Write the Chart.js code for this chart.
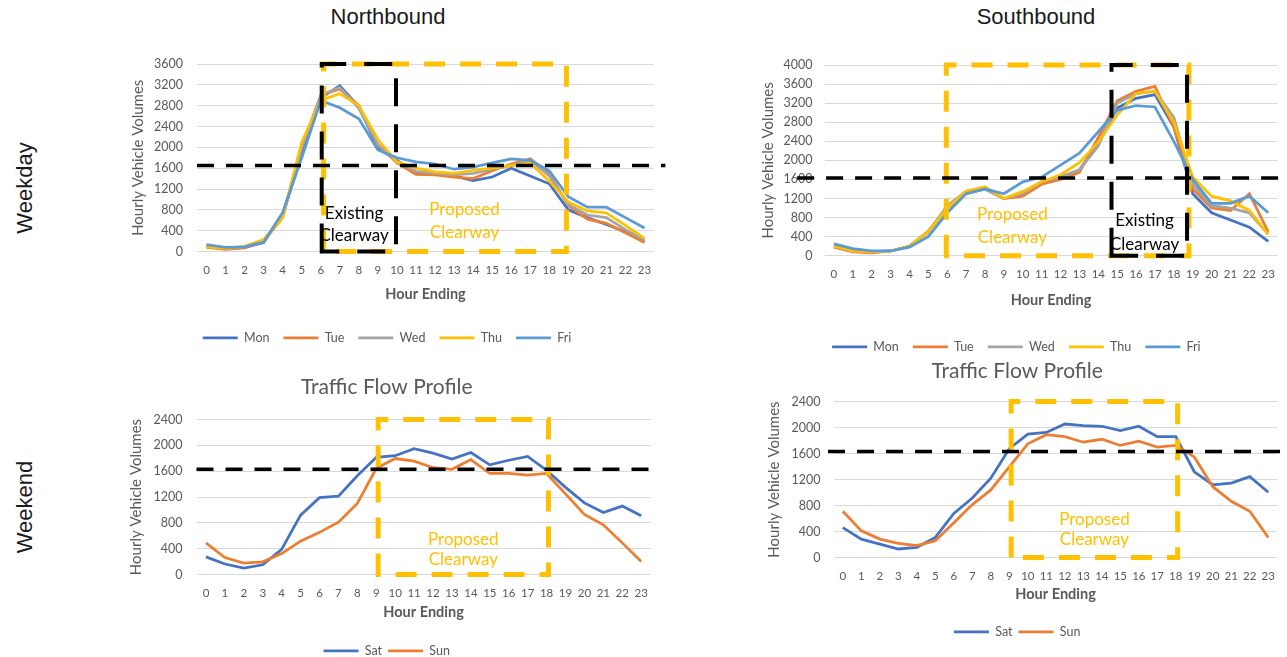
<!DOCTYPE html>
<html>
<head>
<meta charset="utf-8">
<title>Traffic Flow Profile</title>
<script src="https://cdn.jsdelivr.net/npm/chart.js@4.4.0/dist/chart.umd.min.js"></script>
<style>
  html, body { margin: 0; padding: 0; background: #fff; width: 1287px; height: 657px; overflow: hidden; }
  .box { position: absolute; }
  .lbl { position: absolute; font-family: "Liberation Sans", Arial, sans-serif; font-size: 22px; color: #1a1a1a; white-space: nowrap; transform: translate(-50%, -50%); }
  .rot { transform: translate(-50%, -50%) rotate(-90deg); }
</style>
</head>
<body>
<div class="lbl" style="left:388px;top:17px">Northbound</div>
<div class="lbl" style="left:1036px;top:17px">Southbound</div>
<div class="lbl rot" style="left:25px;top:188px">Weekday</div>
<div class="lbl rot" style="left:25px;top:507px">Weekend</div>

<div class="box" style="left:120px;top:40px;width:548px;height:314px"><canvas id="nbWeekday"></canvas></div>
<div class="box" style="left:750px;top:40px;width:537px;height:323px"><canvas id="sbWeekday"></canvas></div>
<div class="box" style="left:120px;top:365px;width:540px;height:302px"><canvas id="nbWeekend"></canvas></div>
<div class="box" style="left:750px;top:349px;width:537px;height:299px"><canvas id="sbWeekend"></canvas></div>

<script>
// hour ending categories
const hours = ["0","1","2","3","4","5","6","7","8","9","10","11","12","13","14","15","16","17","18","19","20","21","22","23"];

// Northbound weekday
const nbMon = [100, 60, 80, 170, 720, 1850, 2950, 3180, 2780, 1980, 1750, 1500, 1480, 1450, 1360, 1430, 1600, 1450, 1300, 800, 650, 520, 380, 200];
const nbTue = [80, 40, 70, 200, 650, 2000, 3000, 3120, 2800, 2050, 1700, 1480, 1470, 1430, 1400, 1550, 1680, 1780, 1500, 880, 620, 540, 360, 170];
const nbWed = [110, 70, 90, 200, 700, 2000, 3000, 3150, 2750, 2050, 1720, 1540, 1500, 1470, 1500, 1580, 1650, 1750, 1450, 900, 700, 650, 420, 220];
const nbThu = [90, 60, 100, 230, 650, 2100, 2900, 3030, 2800, 2150, 1720, 1600, 1530, 1500, 1560, 1600, 1650, 1700, 1350, 950, 780, 740, 500, 250];
const nbFri = [130, 80, 90, 180, 750, 1800, 2900, 2760, 2550, 1950, 1800, 1720, 1680, 1580, 1620, 1700, 1780, 1750, 1550, 1050, 850, 850, 650, 450];

// Southbound weekday
const sbMon = [200, 100, 80, 100, 200, 500, 1000, 1300, 1400, 1200, 1300, 1550, 1650, 1800, 2350, 3100, 3300, 3380, 2700, 1300, 900, 750, 600, 300];
const sbTue = [180, 80, 60, 100, 200, 520, 1000, 1350, 1420, 1200, 1250, 1500, 1600, 1750, 2480, 3250, 3450, 3550, 2700, 1400, 1000, 950, 1300, 500];
const sbWed = [200, 100, 80, 100, 200, 500, 1050, 1350, 1400, 1200, 1300, 1550, 1650, 1800, 2300, 3200, 3400, 3450, 2900, 1500, 1050, 1000, 900, 450];
const sbThu = [200, 100, 80, 100, 200, 500, 1000, 1350, 1450, 1200, 1350, 1550, 1700, 1950, 2380, 2950, 3400, 3450, 2800, 1650, 1250, 1150, 950, 450];
const sbFri = [250, 150, 100, 100, 180, 400, 900, 1300, 1400, 1300, 1550, 1650, 1900, 2150, 2600, 3050, 3150, 3120, 2400, 1600, 1100, 1100, 1250, 900];

// weekend
const nbSat = [273, 162, 100, 150, 390, 920, 1190, 1215, 1530, 1815, 1840, 1950, 1880, 1790, 1890, 1700, 1770, 1830, 1615, 1350, 1110, 960, 1060, 910];
const nbSun = [490, 263, 177, 197, 324, 516, 653, 810, 1100, 1645, 1797, 1757, 1655, 1630, 1780, 1565, 1565, 1540, 1565, 1250, 930, 770, 490, 202];
const sbSat = [460, 283, 207, 131, 157, 309, 678, 916, 1220, 1675, 1900, 1925, 2055, 2030, 2020, 1955, 2020, 1860, 1860, 1320, 1120, 1145, 1245, 1005];
const sbSun = [713, 410, 283, 218, 182, 258, 536, 815, 1040, 1395, 1750, 1890, 1860, 1775, 1820, 1725, 1790, 1700, 1725, 1548, 1090, 865, 713, 309];

// y axis tops
const nbWeekdayMax = 3600;
const sbWeekdayMax = 4000;
const weekendMax = 2400;

// capacity line and clearway windows (hour ending)
const nbCapacity = 1650;
const sbCapacity = 1630;
const weekendCapacity = 1630;
const nbExisting = [6.05, 9.95];
const nbProposed = [6.15, 18.9];
const sbProposed = [5.95, 18.8];
const sbExisting = [14.7, 18.7];
const nbWeekendProposed = [9.1, 18.1];
const sbWeekendProposed = [9.1, 18.1];

const gray = "#595959";
const gridColor = "#d9d9d9";
const black = "#000000";
const amber = "#FFC000";

function series(label, values, color, order) {
  return {
    label: label, data: values, borderColor: color, backgroundColor: color,
    borderWidth: 2.75, pointRadius: 0, pointHoverRadius: 0, tension: 0, order: order
  };
}

// dashed boxes, capacity line and notes, per canvas
const overlays = {
  nbWeekday: {
    boxes: [
      { range: nbProposed, top: nbWeekdayMax, color: amber, width: 5, dash: [21, 15] },
      { range: nbExisting, top: nbWeekdayMax, color: black, width: 4, dash: [28, 18] }
    ],
    cap: { value: nbCapacity, from: -0.5, to: 24.1 },
    notes: [
      { lines: ["Existing", "Clearway"], x: 7.75, y: [720, 300], color: black },
      { lines: ["Proposed", "Clearway"], x: 13.55, y: [800, 370], color: amber }
    ]
  },
  sbWeekday: {
    boxes: [
      { range: sbProposed, top: sbWeekdayMax, color: amber, width: 5, dash: [21, 15] },
      { range: sbExisting, top: sbWeekdayMax, color: black, width: 4, dash: [28, 18] }
    ],
    cap: { value: sbCapacity, from: -1.95, to: 24.5 },
    notes: [
      { lines: ["Proposed", "Clearway"], x: 9.45, y: [870, 383], color: amber },
      { lines: ["Existing", "Clearway"], x: 16.45, y: [730, 243], color: black }
    ]
  },
  nbWeekend: {
    boxes: [
      { range: nbWeekendProposed, top: weekendMax, color: amber, width: 5, dash: [21, 15] }
    ],
    cap: { value: weekendCapacity, from: -0.5, to: 23.6 },
    notes: [
      { lines: ["Proposed", "Clearway"], x: 13.6, y: [542, 238], color: amber }
    ]
  },
  sbWeekend: {
    boxes: [
      { range: sbWeekendProposed, top: weekendMax, color: amber, width: 5, dash: [21, 15] }
    ],
    cap: { value: weekendCapacity, from: -0.8, to: 24.5 },
    notes: [
      { lines: ["Proposed", "Clearway"], x: 13.6, y: [587, 283], color: amber }
    ]
  }
};

const clearwayPlugin = {
  id: "clearway",
  afterDatasetsDraw(chart) {
    const o = overlays[chart.canvas.id];
    if (!o) return;
    const ctx = chart.ctx, xs = chart.scales.x, ys = chart.scales.y;
    ctx.save();
    o.boxes.forEach(b => {
      const x0 = xs.getPixelForValue(b.range[0]), x1 = xs.getPixelForValue(b.range[1]);
      const yTop = ys.getPixelForValue(b.top), yBot = ys.getPixelForValue(0);
      ctx.strokeStyle = b.color;
      ctx.lineWidth = b.width;
      ctx.setLineDash(b.dash);
      ctx.beginPath();
      ctx.moveTo(x0, yBot);
      ctx.lineTo(x0, yTop);
      ctx.lineTo(x1, yTop);
      ctx.lineTo(x1, yBot);
      ctx.closePath();
      ctx.stroke();
    });
    // capacity line
    const yc = ys.getPixelForValue(o.cap.value);
    ctx.strokeStyle = black;
    ctx.lineWidth = 3.5;
    ctx.setLineDash([17, 12]);
    ctx.beginPath();
    ctx.moveTo(xs.getPixelForValue(o.cap.from), yc);
    ctx.lineTo(xs.getPixelForValue(o.cap.to), yc);
    ctx.stroke();
    ctx.setLineDash([]);
    ctx.textAlign = "center";
    ctx.textBaseline = "middle";
    ctx.font = "17px Lato";
    o.notes.forEach(n => {
      ctx.fillStyle = n.color;
      n.lines.forEach((t, i) => ctx.fillText(t, xs.getPixelForValue(n.x), ys.getPixelForValue(n.y[i])));
    });
    ctx.restore();
  }
};

function makeChart(id, datasets, yMax, s) {
  return new Chart(document.getElementById(id), {
    type: "line",
    data: { labels: hours, datasets: datasets },
    plugins: [clearwayPlugin],
    options: {
      responsive: true,
      maintainAspectRatio: false,
      animation: false,
      layout: { padding: s.pad },
      plugins: {
        tooltip: { enabled: false },
        title: {
          display: !!s.title,
          text: s.title || "",
          color: gray,
          font: { family: "Lato", size: 21, weight: "normal" },
          padding: s.titlePad
        },
        legend: {
          position: "bottom",
          labels: {
            usePointStyle: true,
            pointStyle: "line",
            pointStyleWidth: 35,
            color: gray,
            font: { family: "Lato", size: 12.5 },
            padding: s.legendPad,
            sort: (a, b) => a.datasetIndex - b.datasetIndex
          }
        }
      },
      scales: {
        x: {
          offset: true,
          grid: { display: false, drawTicks: false },
          border: { display: false },
          ticks: { color: gray, font: { family: "Lato", size: 11.5 }, padding: s.xTickPad, maxRotation: 0, autoSkip: false },
          title: { display: true, text: "Hour Ending", color: gray, font: { family: "Lato", size: 14.5, weight: "bold" }, padding: { top: 4, bottom: s.xTitlePad } },
          afterFit: scale => { scale.height = s.xHeight; }
        },
        y: {
          min: 0,
          max: yMax,
          grid: { color: gridColor, lineWidth: 1, drawTicks: false },
          border: { display: false },
          ticks: { stepSize: 400, color: gray, font: { family: "Lato", size: 12.5 }, padding: s.yTickPad, callback: v => String(v) },
          title: { display: true, text: "Hourly Vehicle Volumes", color: gray, font: { family: "Lato", size: 15 }, padding: { top: s.yTitlePad, bottom: 2 } },
          afterFit: scale => { scale.width = s.yWidth; }
        }
      }
    }
  });
}

makeChart("nbWeekday", [
  series("Mon", nbMon, "#4472C4", 4),
  series("Tue", nbTue, "#ED7D31", 3),
  series("Wed", nbWed, "#A5A5A5", 2),
  series("Thu", nbThu, amber, 1),
  series("Fri", nbFri, "#5B9BD5", 0)
], nbWeekdayMax, { pad: { top: 24, right: 14, left: 0, bottom: 0 }, yWidth: 77, xHeight: 66, xTickPad: 12, xTitlePad: 14, yTickPad: 14, yTitlePad: 9, legendPad: 14 });

makeChart("sbWeekday", [
  series("Mon", sbMon, "#4472C4", 4),
  series("Tue", sbTue, "#ED7D31", 3),
  series("Wed", sbWed, "#A5A5A5", 2),
  series("Thu", sbThu, amber, 1),
  series("Fri", sbFri, "#5B9BD5", 0)
], sbWeekdayMax, { pad: { top: 25, right: 4.3, left: 0, bottom: 0 }, yWidth: 74.5, xHeight: 70.75, xTickPad: 12, xTitlePad: 17, yTickPad: 12, yTitlePad: 9, legendPad: 14 });

makeChart("nbWeekend", [
  series("Sat", nbSat, "#4472C4", 1),
  series("Sun", nbSun, "#ED7D31", 0)
], weekendMax, { title: "Traffic Flow Profile", titlePad: { top: 10, bottom: 19.4 }, pad: { top: 0, right: 6.5, left: 0, bottom: 0 }, yWidth: 76.5, xHeight: 64, xTickPad: 12, xTitlePad: 17.6, yTickPad: 14, yTitlePad: 7, legendPad: 6 });

makeChart("sbWeekend", [
  series("Sat", sbSat, "#4472C4", 1),
  series("Sun", sbSun, "#ED7D31", 0)
], weekendMax, { title: "Traffic Flow Profile", titlePad: { top: 10, bottom: 17.4 }, pad: { top: 0, right: 2.7, left: 0, bottom: 0 }, yWidth: 83.6, xHeight: 62, xTickPad: 12, xTitlePad: 16.6, yTickPad: 13, yTitlePad: 15, legendPad: 6 });
</script>
</body>
</html>
